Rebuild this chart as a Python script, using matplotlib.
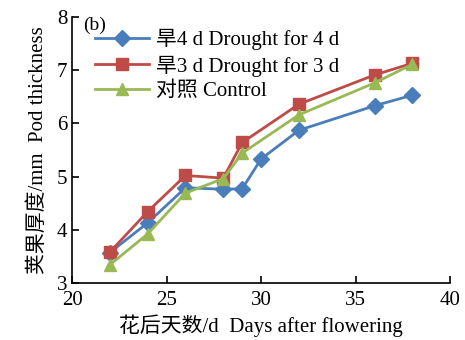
import matplotlib
matplotlib.use("Agg")
import matplotlib.pyplot as plt

# datos
dias_4d = [22, 24, 26, 28, 29, 30, 32, 36, 38]
grosor_4d = [3.57, 4.13, 4.79, 4.76, 4.77, 5.33, 5.87, 6.33, 6.53]

dias_3d = [22, 24, 26, 28, 29, 32, 36, 38]
grosor_3d = [3.58, 4.34, 5.02, 4.97, 5.64, 6.36, 6.91, 7.13]

dias_ck = [22, 24, 26, 28, 29, 32, 36, 38]
grosor_ck = [3.34, 3.92, 4.69, 4.96, 5.44, 6.16, 6.76, 7.11]

fuente = ["Liberation Serif", "Noto Sans CJK SC"]
plt.rcParams["font.family"] = fuente

fig = plt.figure(figsize=(4.65, 3.4), dpi=100)
ax = fig.add_axes([0.155, 0.168, 0.813, 0.782])

ax.plot(dias_4d, grosor_4d, color="#4a7ebb", marker="D", markersize=8, lw=2,
        label="旱4 d Drought for 4 d")
ax.plot(dias_3d, grosor_3d, color="#be4b48", marker="s", markersize=8.5, lw=2,
        label="旱3 d Drought for 3 d")
ax.plot(dias_ck, grosor_ck, color="#98b954", marker="^", markersize=9, lw=2,
        label="对照 Control")

ax.set_xlim(20, 40)
ax.set_ylim(3, 8)
ax.set_xticks([20, 25, 30, 35, 40])
ax.set_yticks([3, 4, 5, 6, 7, 8])
ax.tick_params(direction="in", labelsize=15, length=5, width=1.2)
ax.tick_params(axis="x", pad=6)
ax.spines["top"].set_visible(False)
ax.spines["right"].set_visible(False)
ax.spines["left"].set_linewidth(1.2)
ax.spines["bottom"].set_linewidth(1.2)

ax.set_xlabel("花后天数/d  Days after flowering", fontsize=15, labelpad=3)
ax.set_ylabel("荚果厚度/mm  Pod thickness", fontsize=15, labelpad=6)

ax.text(0.03, 1.0, "(b)", transform=ax.transAxes, fontsize=14, va="top")

ax.legend(loc="upper left", bbox_to_anchor=(0.05, 0.97), frameon=False,
          fontsize=15, handlelength=2.6, handletextpad=0.3, labelspacing=0.25,
          borderaxespad=0.0, borderpad=0.2)

fig.savefig("out.png", dpi=100)
